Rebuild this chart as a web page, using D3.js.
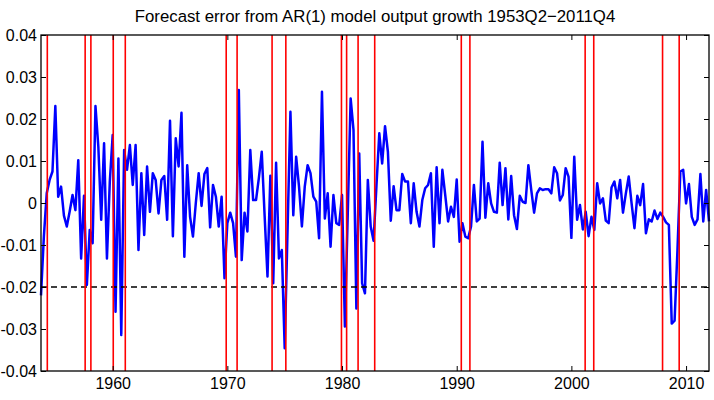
<!DOCTYPE html>
<html>
<head>
<meta charset="utf-8">
<script src="https://cdn.jsdelivr.net/npm/d3@7"></script>
<style>
  body { margin: 0; background: #fff; }
  svg { display: block; font-family: "Liberation Sans", Arial, sans-serif; }
</style>
</head>
<body>
<script>
// forecast errors, quarterly, first point 1953Q3
var startYear = 1953.75;
var errors = [
  -0.0220, -0.0080, 0.0023, 0.0055, 0.0075, 0.0231, 0.0015, 0.0039, -0.0030, -0.0056,
  -0.0020, 0.0019, -0.0017, 0.0102, -0.0132, 0.0017, -0.0195, -0.0064, -0.0096, 0.0231,
  0.0134, -0.0040, 0.0142, -0.0132, 0.0051, 0.0162, -0.0259, 0.0106, -0.0314, 0.0126,
  0.0079, 0.0138, 0.0043, 0.0138, -0.0112, 0.0071, -0.0076, 0.0087, -0.0021, 0.0071,
  0.0055, -0.0025, 0.0055, 0.0064, -0.0040, 0.0196, -0.0079, 0.0154, 0.0087, 0.0215,
  -0.0128, 0.0090, -0.0033, -0.0080, 0.0000, 0.0071, -0.0007, 0.0069, 0.0083, -0.0058,
  0.0043, 0.0015, -0.0056, 0.0015, -0.0179, -0.0048, -0.0023, -0.0048, -0.0128, 0.0269,
  -0.0136, -0.0023, -0.0068, 0.0126, 0.0007, 0.0007, 0.0060, 0.0122, -0.0030, -0.0175,
  0.0065, -0.0191, 0.0096, -0.0132, -0.0112, -0.0346, -0.0064, 0.0217, -0.0029, 0.0110,
  0.0039, -0.0056, 0.0039, 0.0090, 0.0071, 0.0015, 0.0003, -0.0084, 0.0265, -0.0037,
  0.0023, -0.0104, 0.0019, -0.0048, -0.0052, 0.0019, -0.0294, -0.0025, 0.0249, 0.0174,
  -0.0251, 0.0118, -0.0191, -0.0215, 0.0055, -0.0056, -0.0090, 0.0040, 0.0166, 0.0094,
  0.0183, 0.0122, -0.0042, 0.0040, -0.0017, -0.0017, 0.0069, 0.0051, 0.0051, -0.0048,
  0.0047, -0.0021, -0.0056, 0.0007, 0.0035, 0.0043, 0.0071, -0.0104, 0.0085, -0.0048,
  0.0079, 0.0019, -0.0044, -0.0009, -0.0033, 0.0056, -0.0092, -0.0048, -0.0080, -0.0084,
  -0.0056, 0.0043, -0.0044, -0.0037, 0.0146, -0.0035, 0.0047, -0.0001, -0.0021, -0.0023,
  0.0096, -0.0005, 0.0083, -0.0039, 0.0064, -0.0029, -0.0062, 0.0017, 0.0003, 0.0000,
  0.0090, 0.0031, -0.0023, 0.0023, 0.0035, 0.0031, 0.0033, 0.0033, 0.0023, 0.0085,
  0.0071, 0.0006, 0.0019, 0.0083, 0.0063, -0.0083, 0.0110, -0.0040, -0.0005, -0.0063,
  -0.0021, -0.0079, -0.0033, -0.0064, 0.0047, -0.0001, 0.0011, -0.0042, -0.0048, 0.0037,
  0.0051, 0.0011, 0.0055, -0.0023, 0.0023, 0.0063, -0.0001, -0.0060, 0.0017, -0.0005,
  0.0045, -0.0072, -0.0039, -0.0044, -0.0018, -0.0038, -0.0023, -0.0033, -0.0046, -0.0052,
  -0.0287, -0.0280, -0.0112, 0.0075, 0.0079, -0.0001, 0.0045, -0.0033, -0.0052, -0.0039,
  0.0069, -0.0044, 0.0031, -0.0044
];

// NBER peaks and troughs (red lines)
var recessionDates = [1954.3, 1957.6, 1958.1, 1960.05, 1961.1, 1969.9, 1970.85,
  1973.9, 1975.1, 1979.95, 1980.4, 1981.4, 1982.85, 1990.4, 1991.15,
  2001.2, 2001.95, 2007.95, 2009.4];

var threshold = -0.02;
var xTicks = [1960, 1970, 1980, 1990, 2000, 2010];
var yTicks = [-0.04, -0.03, -0.02, -0.01, 0, 0.01, 0.02, 0.03, 0.04];
var title = "Forecast error from AR(1) model output growth 1953Q2\u22122011Q4";

var w = 714, h = 400;
var pL = 41, pR = 709, pT = 35, pB = 371;

var svg = d3.select("body").append("svg")
  .attr("width", w)
  .attr("height", h);

var x = d3.scaleLinear()
  .domain([startYear, startYear + (errors.length - 1) / 4])
  .range([pL, pR]);

var y = d3.scaleLinear()
  .domain([-0.04, 0.04])
  .range([pB, pT]);

var pts = errors.map(function (v, i) { return [startYear + i / 4, v]; });

// the series
svg.append("path")
  .datum(pts)
  .attr("fill", "none")
  .attr("stroke", "#0000ff")
  .attr("stroke-width", 2.5)
  .attr("stroke-linejoin", "round")
  .attr("d", d3.line().x(function (d) { return x(d[0]); }).y(function (d) { return y(d[1]); }));

// dashed threshold
svg.append("line")
  .attr("x1", pL).attr("x2", pR)
  .attr("y1", y(threshold)).attr("y2", y(threshold))
  .attr("stroke", "#000")
  .attr("stroke-width", 1.5)
  .attr("stroke-dasharray", "6,4");

// recession lines
svg.selectAll("line.rec")
  .data(recessionDates)
  .enter().append("line")
  .attr("class", "rec")
  .attr("x1", function (d) { return x(d); })
  .attr("x2", function (d) { return x(d); })
  .attr("y1", pT).attr("y2", pB)
  .attr("stroke", "#ff0000")
  .attr("stroke-width", 1.6);

// axes, ticks pointing inwards
var fmtY = function (d) { return Math.abs(d) < 1e-9 ? "0" : d.toFixed(2); };

svg.append("g")
  .attr("transform", "translate(0," + pB + ")")
  .call(d3.axisBottom(x).tickValues(xTicks).tickFormat(d3.format("d"))
    .tickSizeInner(-5).tickSizeOuter(0).tickPadding(7));

svg.append("g")
  .attr("transform", "translate(" + pL + ",0)")
  .call(d3.axisLeft(y).tickValues(yTicks).tickFormat(fmtY)
    .tickSizeInner(-5).tickSizeOuter(0).tickPadding(4));

svg.append("g")
  .attr("transform", "translate(0," + pT + ")")
  .call(d3.axisTop(x).tickValues(xTicks).tickFormat("")
    .tickSizeInner(-5).tickSizeOuter(0));

svg.append("g")
  .attr("transform", "translate(" + pR + ",0)")
  .call(d3.axisRight(y).tickValues(yTicks).tickFormat("")
    .tickSizeInner(-5).tickSizeOuter(0));

svg.selectAll(".tick text")
  .attr("fill", "#000")
  .style("font-size", "16px")
  .style("font-family", "Liberation Sans, Arial, sans-serif");

svg.selectAll(".domain").attr("stroke", "none");

// box
svg.append("rect")
  .attr("x", pL).attr("y", pT)
  .attr("width", pR - pL).attr("height", pB - pT)
  .attr("fill", "none")
  .attr("stroke", "#000")
  .attr("stroke-width", 1.3);

svg.append("text")
  .attr("x", (pL + pR) / 2)
  .attr("y", 22)
  .attr("text-anchor", "middle")
  .style("font-size", "16.8px")
  .text(title);
</script>
</body>
</html>
